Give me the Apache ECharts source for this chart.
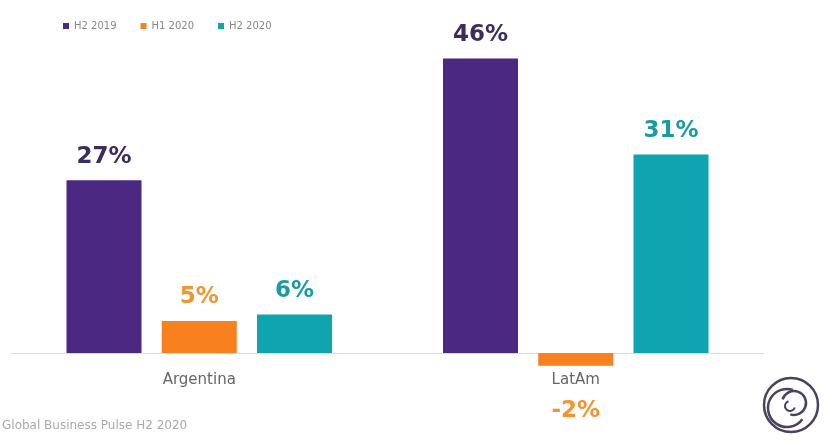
<!DOCTYPE html>
<html>
<head>
<meta charset="utf-8">
<script src="https://cdn.jsdelivr.net/npm/echarts@6/dist/echarts.min.js"></script>
<style>html,body{margin:0;padding:0;background:#fff}#c{width:826px;height:440px}</style>
</head>
<body>
<div id="c"></div>
<script>
var categories = ['Argentina', 'LatAm'];
var seriesNames = ['H2 2019', 'H1 2020', 'H2 2020'];
var h2_2019 = [27, 46];
var h1_2020 = [5, -2];
var h2_2020 = [6, 31];
var sourceText = 'Global Business Pulse H2 2020';

var barColors = ['#4b2882', '#f7801f', '#10a3b0'];
var labelColors = ['#3d2c5e', '#f0952f', '#1a9ba3'];
var values = [h2_2019, h1_2020, h2_2020];

var chart = echarts.init(document.getElementById('c'), null, {renderer: 'canvas'});
var font = '"DejaVu Sans", sans-serif';

var series = values.map(function (vals, i) {
  return {
    name: seriesNames[i],
    type: 'bar',
    barWidth: 75,
    barGap: '27%',
    itemStyle: {color: barColors[i]},
    data: vals.map(function (v) {
      return {
        value: v,
        label: {position: v < 0 ? 'bottom' : 'top', distance: v < 0 ? 34 : 12}
      };
    }),
    label: {
      show: true,
      formatter: '{c}%',
      fontSize: 23,
      fontWeight: 'bold',
      fontFamily: font,
      color: labelColors[i]
    }
  };
});

chart.setOption({
  animation: false,
  backgroundColor: '#fff',
  legend: {
    left: 58, top: 16,
    icon: 'rect', itemWidth: 6, itemHeight: 6, itemGap: 24,
    textStyle: {fontSize: 10, color: '#888', fontFamily: font},
    data: seriesNames
  },
  grid: {left: 11, right: 62, top: 33, bottom: 55},
  xAxis: {
    type: 'category',
    data: categories,
    axisLine: {lineStyle: {color: '#dcdcdc', width: 1}},
    axisTick: {show: false},
    axisLabel: {color: '#666', fontSize: 15, margin: -12, fontFamily: font}
  },
  yAxis: {
    type: 'value', min: -5, max: 50, show: false,
    splitLine: {show: false}
  },
  series: series,
  graphic: [
    {type: 'text', left: 2, top: 420, style: {text: sourceText, fontSize: 12, fill: '#aaa', fontFamily: font}},
    {type: 'group', x: 791, y: 405, children: [
      {type: 'circle', shape: {cx: 0, cy: 0, r: 27}, style: {fill: 'none', stroke: '#4a4160', lineWidth: 2.5}},
      {type: 'arc', shape: {cx: -4, cy: 3, r: 19, startAngle: Math.PI * 0.2, endAngle: Math.PI * 1.6}, style: {fill: 'none', stroke: '#4a4160', lineWidth: 2.5}},
      {type: 'arc', shape: {cx: 3, cy: -2, r: 12, startAngle: Math.PI * 1.1, endAngle: Math.PI * 2.6}, style: {fill: 'none', stroke: '#4a4160', lineWidth: 2.5}},
      {type: 'arc', shape: {cx: -1, cy: 1, r: 5, startAngle: Math.PI * 0.1, endAngle: Math.PI * 1.4}, style: {fill: 'none', stroke: '#4a4160', lineWidth: 2}}
    ]}
  ]
});
</script>
</body>
</html>
